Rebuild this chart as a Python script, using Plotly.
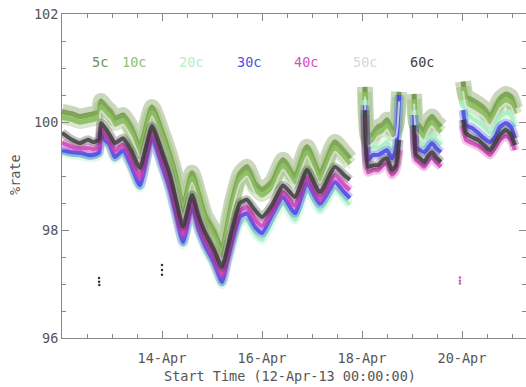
import datetime as dt
import plotly.graph_objects as go

# hours since 12-Apr-13 00:00:00 (None = data gap)
hours = [0.0, 4.8, 8.6, 12.5, 14.9, 17.8, 18.7, 21.1, 23.0, 25.4, 29.3, 33.1, 37.4, 43.2, 48.0,
         51.8, 54.7, 58.1, 62.4, 65.3, 68.6, 73.0, 76.8, 79.2, 81.6, 85.4, 88.8, 92.6, 96.0,
         100.8, 106.1, 111.8, 117.6, 123.8, 131.0, 135.4, 138.2,
         None,
         145.4, 146.9, 149.3, 151.7, 154.1, 156.0, 158.4, 160.3, 161.8,
         None,
         169.0, 169.9, 171.8, 173.8, 175.7, 177.6, 179.5, 181.9,
         None,
         192.5, 193.9, 196.8, 199.7, 202.6, 205.4, 207.8, 210.2, 213.1, 215.5, 217.4]

rate_5c = [100.19, 100.15, 100.10, 100.13, 100.15, 100.19, 100.39, 100.28, 100.21, 100.06, 100.13, 99.91, 99.54, 100.28, 99.82,
           99.39, 98.99, 98.43, 99.06, 98.71, 98.28, 97.97, 97.63, 98.06, 98.52, 99.04, 99.17, 98.86, 98.75,
           98.89, 99.30, 98.99, 99.54, 99.04, 99.63, 99.45, 99.32,
           None,
           100.65, 99.73, 99.78, 99.91, 99.95, 100.04, 99.87, 99.91, 100.56,
           None,
           100.52, 100.00, 99.91, 99.82, 100.00, 100.10, 100.00, 99.91,
           None,
           100.75, 100.47, 100.41, 100.34, 100.25, 100.10, 100.25, 100.43, 100.52, 100.47, 100.25]

rate_10c = [100.09, 100.05, 100.00, 100.03, 100.05, 100.09, 100.29, 100.18, 100.11, 99.96, 100.03, 99.81, 99.44, 100.18, 99.72,
            99.29, 98.89, 98.33, 98.96, 98.61, 98.18, 97.87, 97.53, 97.96, 98.42, 98.94, 99.07, 98.76, 98.65,
            98.79, 99.20, 98.89, 99.44, 98.94, 99.53, 99.35, 99.22,
            None,
            100.55, 99.63, 99.68, 99.81, 99.85, 99.94, 99.77, 99.81, 100.46,
            None,
            100.42, 99.90, 99.81, 99.72, 99.90, 100.00, 99.90, 99.81,
            None,
            100.65, 100.37, 100.31, 100.24, 100.15, 100.00, 100.15, 100.33, 100.42, 100.37, 100.15]

rate_20c = [99.43, 99.39, 99.38, 99.34, 99.34, 99.39, 99.73, 99.60, 99.52, 99.30, 99.43, 99.15, 98.78, 99.65, 99.14,
            98.69, 98.23, 97.73, 98.38, 97.99, 97.67, 97.34, 96.99, 97.36, 97.66, 98.12, 98.19, 97.94, 97.82,
            98.16, 98.49, 98.19, 98.75, 98.36, 98.77, 98.58, 98.47,
            None,
            100.41, 99.48, 99.54, 99.52, 99.57, 99.63, 99.48, 99.57, 100.41,
            None,
            100.22, 99.67, 99.63, 99.57, 99.67, 99.76, 99.67, 99.57,
            None,
            100.41, 100.19, 100.07, 100.00, 99.91, 99.80, 99.91, 100.09, 100.17, 100.13, 99.91]

rate_30c = [99.48, 99.44, 99.43, 99.39, 99.39, 99.44, 99.78, 99.65, 99.57, 99.35, 99.48, 99.20, 98.83, 99.70, 99.19,
            98.74, 98.28, 97.78, 98.43, 98.04, 97.72, 97.39, 97.04, 97.41, 97.78, 98.24, 98.31, 98.06, 97.94,
            98.28, 98.61, 98.31, 98.87, 98.48, 98.89, 98.70, 98.59,
            None,
            100.31, 99.30, 99.39, 99.39, 99.44, 99.48, 99.33, 99.48, 100.50,
            None,
            100.13, 99.52, 99.48, 99.44, 99.52, 99.61, 99.52, 99.44,
            None,
            100.22, 99.94, 99.89, 99.80, 99.70, 99.63, 99.72, 99.91, 99.98, 99.91, 99.70]

rate_40c = [99.62, 99.54, 99.51, 99.52, 99.50, 99.54, 99.87, 99.75, 99.66, 99.47, 99.58, 99.33, 98.97, 99.80, 99.30,
            98.87, 98.41, 97.91, 98.53, 98.15, 97.83, 97.50, 97.16, 97.51, 97.88, 98.36, 98.42, 98.20, 98.08,
            98.36, 98.71, 98.45, 98.98, 98.58, 99.02, 98.84, 98.74,
            None,
            100.13, 99.07, 99.11, 99.11, 99.20, 99.24, 99.02, 99.11, 99.48,
            None,
            99.85, 99.30, 99.24, 99.17, 99.28, 99.35, 99.26, 99.17,
            None,
            99.94, 99.67, 99.61, 99.56, 99.48, 99.39, 99.52, 99.67, 99.74, 99.67, 99.48]

rate_50c = [100.01, 99.97, 99.92, 99.95, 99.97, 100.01, 100.21, 100.10, 100.03, 99.88, 99.95, 99.73, 99.36, 100.10, 99.64,
            99.21, 98.81, 98.25, 98.88, 98.53, 98.10, 97.79, 97.45, 97.88, 98.34, 98.86, 98.99, 98.68, 98.57,
            98.71, 99.12, 98.81, 99.36, 98.86, 99.45, 99.27, 99.14,
            None,
            100.47, 99.55, 99.60, 99.73, 99.77, 99.86, 99.69, 99.73, 100.38,
            None,
            100.34, 99.82, 99.73, 99.64, 99.82, 99.92, 99.82, 99.73,
            None,
            100.57, 100.29, 100.23, 100.16, 100.07, 99.92, 100.07, 100.25, 100.34, 100.29, 100.07]

rate_60c = [99.80, 99.67, 99.61, 99.67, 99.63, 99.67, 99.98, 99.87, 99.76, 99.61, 99.70, 99.48, 99.15, 99.92, 99.44,
            99.02, 98.56, 98.06, 98.65, 98.28, 97.96, 97.63, 97.31, 97.63, 98.00, 98.50, 98.56, 98.37, 98.24,
            98.46, 98.83, 98.61, 99.11, 98.70, 99.17, 99.02, 98.93,
            None,
            100.22, 99.17, 99.20, 99.20, 99.30, 99.33, 99.11, 99.20, 99.67,
            None,
            99.94, 99.39, 99.33, 99.26, 99.37, 99.44, 99.35, 99.26,
            None,
            100.04, 99.80, 99.72, 99.67, 99.57, 99.48, 99.61, 99.76, 99.85, 99.76, 99.57]

# isolated low points
out_hours_60c = [17.8, 17.8, 17.9, 48.0, 48.0, 48.0]
out_rate_60c = [97.11, 97.04, 96.98, 97.35, 97.26, 97.17]
out_hours_40c = [191.0, 191.0, 191.0]
out_rate_40c = [97.12, 97.06, 97.01]

labels = ["5c", "10c", "20c", "30c", "40c", "50c", "60c"]
series = [rate_5c, rate_10c, rate_20c, rate_30c, rate_40c, rate_50c, rate_60c]
line_colors = ["#6b8f45", "#8dc05e", "#a6f0c4", "#4848e8", "#d33cb8", "#e4e4e4", "#383838"]
text_colors = ["#6e9150", "#90c070", "#b0f0c8", "#5050e0", "#d050c0", "#d8d8d8", "#404040"]
core_w = [5, 5, 4, 4, 4, 2, 4]
halo_w = [16, 14, 9, 9, 9, 0, 9]
halo_op = [0.35, 0.35, 0.35, 0.3, 0.3, 0.0, 0.3]
core_op = [0.85, 0.85, 0.9, 0.85, 0.8, 0.8, 0.8]

base = dt.datetime(2013, 4, 12)


def to_time(hs):
    return [None if h is None else base + dt.timedelta(hours=h) for h in hs]


t = to_time(hours)
fig = go.Figure()
for lab, ys, c, cw, hw, ho, co in zip(labels, series, line_colors, core_w, halo_w, halo_op, core_op):
    if hw > 0:
        fig.add_trace(go.Scatter(x=t, y=ys, mode="lines",
                                 line=dict(color=c, width=hw, shape="spline", smoothing=0.5),
                                 opacity=ho, connectgaps=False, showlegend=False, hoverinfo="skip"))
    fig.add_trace(go.Scatter(x=t, y=ys, mode="lines",
                             line=dict(color=c, width=cw, shape="spline", smoothing=0.5),
                             opacity=co, connectgaps=False, name=lab, showlegend=False))
fig.add_trace(go.Scatter(x=to_time(out_hours_60c), y=out_rate_60c, mode="markers",
                         marker=dict(color="#333333", size=2.5), showlegend=False))
fig.add_trace(go.Scatter(x=to_time(out_hours_40c), y=out_rate_40c, mode="markers",
                         marker=dict(color="#d050c0", size=2.5), showlegend=False))

font = dict(family="DejaVu Sans Mono", size=13.5, color="#555555")
L, R, T, B = 62, 526, 14, 338
W, H = 526, 387

annotations = []
label_px = [100, 134, 191, 249, 306, 365, 422]
for lab, px, c in zip(labels, label_px, text_colors):
    annotations.append(dict(text=lab, x=(px - L) / (R - L), y=(B - 62) / (B - T),
                            xref="paper", yref="paper", showarrow=False,
                            xanchor="center", yanchor="middle",
                            font=dict(family="DejaVu Sans Mono", size=13.5, color=c)))
annotations.append(dict(text="%rate", x=(15 - L) / (R - L), y=(B - 175) / (B - T), xref="paper",
                        yref="paper", showarrow=False, textangle=-90, xanchor="center",
                        yanchor="middle", font=font))
annotations.append(dict(text="Start Time (12-Apr-13 00:00:00)", x=(290 - L) / (R - L),
                        y=(B - 376) / (B - T), xref="paper", yref="paper", showarrow=False,
                        xanchor="center", yanchor="middle", font=font))

xr_end = base + dt.timedelta(days=(R - L) / 50.0)
tick_days = [base + dt.timedelta(days=d) for d in (2, 4, 6, 8)]
fig.update_layout(
    width=W, height=H, margin=dict(l=L, r=W - R, t=T, b=H - B),
    paper_bgcolor="white", plot_bgcolor="white",
    annotations=annotations, font=font,
    xaxis=dict(type="date", range=[base, xr_end], tickvals=tick_days,
               ticktext=[d.strftime("%d-%b") for d in tick_days],
               ticks="inside", ticklen=7, tickcolor="#888", mirror="allticks",
               showline=True, linecolor="#888", linewidth=1, showgrid=False, zeroline=False,
               minor=dict(dtick=43200000, tick0=base, ticks="inside", ticklen=4, tickcolor="#888"),
               tickfont=font, ticklabelstandoff=8),
    yaxis=dict(range=[96, 102], tickvals=[96, 98, 100, 102], ticks="inside", ticklen=7,
               tickcolor="#888", mirror="allticks", showline=True, linecolor="#888", linewidth=1,
               showgrid=False, zeroline=False,
               minor=dict(dtick=0.5, ticks="inside", ticklen=4, tickcolor="#888"),
               tickfont=font),
)
fig.write_html("out.html")
